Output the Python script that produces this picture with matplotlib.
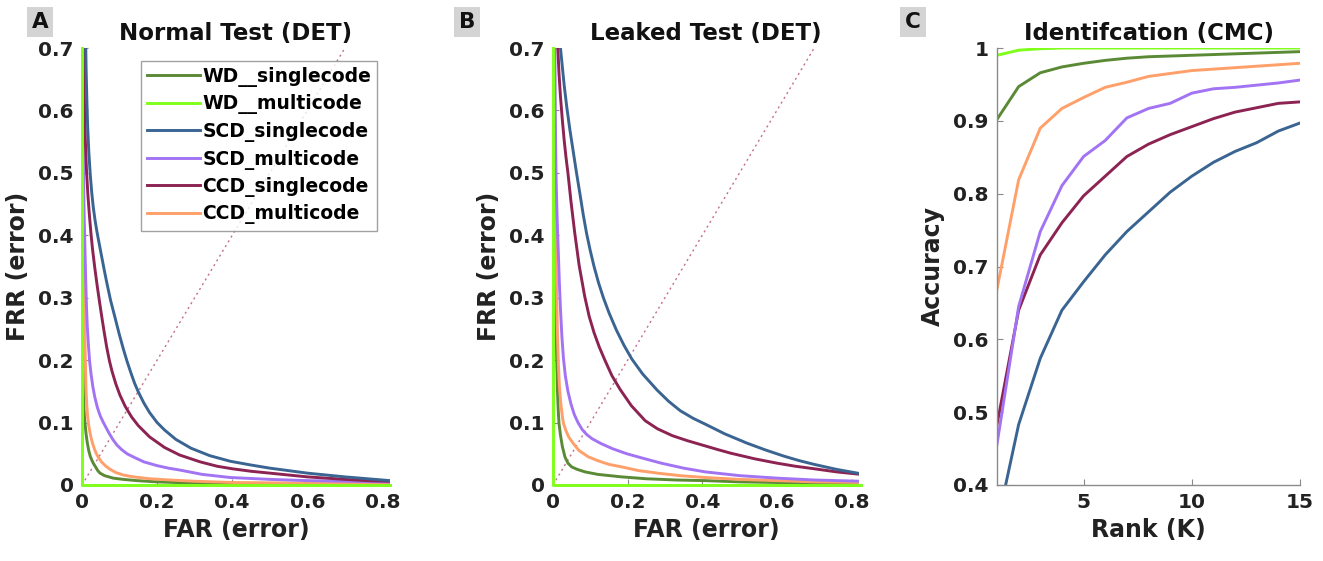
import numpy as np
import matplotlib
matplotlib.use("Agg")
import matplotlib.pyplot as plt

plt.rcParams['font.family'] = ['DejaVu Sans']
plt.rcParams['font.weight'] = 'bold'

labels = ["WD__singlecode", "WD__multicode", "SCD_singlecode",
          "SCD_multicode", "CCD_singlecode", "CCD_multicode"]
colors = ["#5a8a36", "#7fff1a", "#3a6492", "#a274f4", "#8c2352", "#ffa06a"]

# ---- Normal test (DET) ----
far_a_wd_s = [0.001, 0.0015, 0.002, 0.003, 0.004, 0.005, 0.006, 0.008, 0.011, 0.014, 0.018,
              0.022, 0.026, 0.030, 0.036, 0.042, 0.048, 0.060, 0.083, 0.110, 0.146, 0.200,
              0.250, 0.400, 0.820]
frr_a_wd_s = [0.700, 0.480, 0.350, 0.220, 0.155, 0.128, 0.114, 0.099, 0.081, 0.068, 0.055,
              0.046, 0.040, 0.035, 0.029, 0.023, 0.019, 0.015, 0.011, 0.009, 0.007, 0.005,
              0.004, 0.002, 0.001]
far_a_wd_m = [0.0, 0.0, 0.820]
frr_a_wd_m = [0.700, 0.0, 0.0]
far_a_scd_s = [0.010, 0.011, 0.013, 0.015, 0.018, 0.022, 0.026, 0.030, 0.035, 0.040, 0.046,
               0.052, 0.059, 0.066, 0.076, 0.088, 0.099, 0.110, 0.120, 0.130, 0.140, 0.150,
               0.165, 0.180, 0.200, 0.220, 0.250, 0.290, 0.340, 0.395, 0.450, 0.500, 0.550,
               0.600, 0.650, 0.700, 0.760, 0.820]
frr_a_scd_s = [0.700, 0.665, 0.615, 0.575, 0.535, 0.497, 0.468, 0.445, 0.423, 0.405, 0.386,
               0.367, 0.345, 0.324, 0.296, 0.268, 0.242, 0.218, 0.198, 0.180, 0.163, 0.149,
               0.131, 0.116, 0.100, 0.088, 0.073, 0.059, 0.047, 0.038, 0.032, 0.027, 0.023,
               0.019, 0.016, 0.013, 0.010, 0.007]
far_a_scd_m = [0.001, 0.002, 0.003, 0.004, 0.005, 0.006, 0.008, 0.010, 0.012, 0.014, 0.017,
               0.020, 0.024, 0.029, 0.034, 0.041, 0.049, 0.057, 0.064, 0.072, 0.082, 0.093,
               0.105, 0.120, 0.140, 0.165, 0.200, 0.230, 0.260, 0.320, 0.395, 0.500, 0.600,
               0.700, 0.820]
frr_a_scd_m = [0.700, 0.620, 0.555, 0.500, 0.458, 0.425, 0.375, 0.325, 0.285, 0.255, 0.225,
               0.200, 0.178, 0.157, 0.141, 0.124, 0.110, 0.100, 0.092, 0.083, 0.073, 0.064,
               0.057, 0.050, 0.044, 0.037, 0.031, 0.027, 0.024, 0.017, 0.012, 0.009, 0.007,
               0.006, 0.005]
far_a_ccd_s = [0.004, 0.005, 0.007, 0.009, 0.012, 0.016, 0.020, 0.024, 0.028, 0.034, 0.040,
               0.046, 0.052, 0.059, 0.066, 0.073, 0.080, 0.090, 0.101, 0.115, 0.132, 0.150,
               0.180, 0.220, 0.260, 0.315, 0.360, 0.400, 0.450, 0.500, 0.550, 0.600, 0.650,
               0.700, 0.760, 0.820]
frr_a_ccd_s = [0.700, 0.665, 0.600, 0.550, 0.503, 0.462, 0.430, 0.402, 0.378, 0.348, 0.321,
               0.296, 0.272, 0.245, 0.220, 0.199, 0.182, 0.162, 0.144, 0.126, 0.109, 0.095,
               0.077, 0.060, 0.048, 0.037, 0.030, 0.026, 0.022, 0.019, 0.016, 0.013, 0.011,
               0.009, 0.007, 0.006]
far_a_ccd_m = [0.001, 0.0015, 0.002, 0.003, 0.004, 0.005, 0.006, 0.008, 0.010, 0.011, 0.013,
               0.015, 0.017, 0.020, 0.024, 0.028, 0.034, 0.040, 0.044, 0.052, 0.062, 0.075,
               0.090, 0.110, 0.137, 0.180, 0.235, 0.300, 0.400, 0.600, 0.820]
frr_a_ccd_m = [0.700, 0.590, 0.500, 0.430, 0.377, 0.330, 0.290, 0.225, 0.170, 0.148, 0.125,
               0.110, 0.099, 0.088, 0.076, 0.067, 0.056, 0.048, 0.044, 0.037, 0.031, 0.025,
               0.020, 0.016, 0.013, 0.010, 0.008, 0.006, 0.004, 0.003, 0.002]

# ---- Leaked test (DET) ----
far_b_wd_s = [0.002, 0.0025, 0.003, 0.004, 0.005, 0.007, 0.010, 0.012, 0.014, 0.016, 0.020,
              0.025, 0.032, 0.040, 0.050, 0.065, 0.086, 0.120, 0.184, 0.250, 0.330, 0.408,
              0.500, 0.600, 0.700, 0.825]
frr_b_wd_s = [0.700, 0.600, 0.500, 0.430, 0.377, 0.290, 0.200, 0.150, 0.120, 0.099, 0.080,
              0.062, 0.045, 0.035, 0.029, 0.025, 0.021, 0.017, 0.013, 0.010, 0.008, 0.007,
              0.005, 0.004, 0.003, 0.002]
far_b_wd_m = [0.0, 0.0, 0.825]
frr_b_wd_m = [0.700, 0.0, 0.0]
far_b_scd_s = [0.020, 0.025, 0.030, 0.037, 0.045, 0.054, 0.063, 0.072, 0.081, 0.090, 0.100,
               0.110, 0.122, 0.135, 0.150, 0.170, 0.190, 0.211, 0.240, 0.279, 0.310, 0.341,
               0.375, 0.413, 0.460, 0.520, 0.570, 0.620, 0.660, 0.700, 0.760, 0.825]
frr_b_scd_s = [0.700, 0.670, 0.640, 0.605, 0.570, 0.535, 0.500, 0.467, 0.433, 0.403, 0.375,
               0.350, 0.324, 0.300, 0.276, 0.248, 0.224, 0.202, 0.178, 0.152, 0.134, 0.119,
               0.107, 0.096, 0.082, 0.067, 0.056, 0.046, 0.039, 0.033, 0.025, 0.018]
far_b_scd_m = [0.005, 0.006, 0.008, 0.010, 0.012, 0.014, 0.017, 0.020, 0.024, 0.028, 0.033,
               0.040, 0.048, 0.057, 0.067, 0.078, 0.090, 0.105, 0.130, 0.160, 0.198, 0.240,
               0.290, 0.350, 0.408, 0.500, 0.600, 0.700, 0.825]
frr_b_scd_m = [0.700, 0.600, 0.500, 0.450, 0.410, 0.377, 0.325, 0.282, 0.236, 0.203, 0.175,
               0.150, 0.130, 0.113, 0.100, 0.089, 0.081, 0.074, 0.066, 0.058, 0.050, 0.043,
               0.035, 0.027, 0.021, 0.015, 0.011, 0.008, 0.006]
far_b_ccd_s = [0.013, 0.016, 0.020, 0.025, 0.030, 0.035, 0.040, 0.048, 0.058, 0.070, 0.085,
               0.097, 0.110, 0.124, 0.139, 0.158, 0.180, 0.210, 0.247, 0.280, 0.320, 0.360,
               0.400, 0.440, 0.476, 0.540, 0.600, 0.650, 0.700, 0.760, 0.825]
frr_b_ccd_s = [0.700, 0.660, 0.622, 0.585, 0.552, 0.524, 0.500, 0.455, 0.405, 0.352, 0.302,
               0.270, 0.244, 0.221, 0.200, 0.175, 0.153, 0.127, 0.103, 0.090, 0.079, 0.071,
               0.064, 0.057, 0.051, 0.042, 0.035, 0.030, 0.026, 0.021, 0.017]
far_b_ccd_m = [0.004, 0.005, 0.006, 0.007, 0.008, 0.010, 0.012, 0.014, 0.017, 0.021, 0.025,
               0.028, 0.034, 0.042, 0.055, 0.070, 0.095, 0.120, 0.150, 0.184, 0.230, 0.280,
               0.340, 0.408, 0.500, 0.600, 0.700, 0.825]
frr_b_ccd_m = [0.700, 0.600, 0.500, 0.430, 0.377, 0.300, 0.240, 0.200, 0.160, 0.130, 0.110,
               0.099, 0.088, 0.077, 0.066, 0.055, 0.045, 0.039, 0.033, 0.029, 0.023, 0.019,
               0.015, 0.012, 0.009, 0.007, 0.005, 0.004]

eer_line = [0.0, 0.7]

# ---- Identification (CMC) ----
rank = list(range(1, 16))
acc_wd_s = [0.902, 0.947, 0.966, 0.974, 0.979, 0.983, 0.986, 0.988, 0.989, 0.990, 0.991,
            0.992, 0.993, 0.994, 0.995]
acc_wd_m = [0.990, 0.997, 0.999, 1.0, 1.0, 1.0, 1.0, 1.0, 1.0, 1.0, 1.0, 1.0, 1.0, 1.0, 1.0]
acc_scd_s = [0.345, 0.483, 0.574, 0.640, 0.679, 0.716, 0.748, 0.775, 0.802, 0.824, 0.843,
             0.858, 0.870, 0.886, 0.897]
acc_scd_m = [0.456, 0.645, 0.748, 0.811, 0.851, 0.873, 0.904, 0.917, 0.924, 0.938, 0.944,
             0.946, 0.949, 0.952, 0.956]
acc_ccd_s = [0.483, 0.640, 0.716, 0.760, 0.797, 0.824, 0.851, 0.868, 0.881, 0.892, 0.903,
             0.912, 0.918, 0.924, 0.926]
acc_ccd_m = [0.669, 0.819, 0.890, 0.917, 0.932, 0.946, 0.953, 0.961, 0.965, 0.969, 0.971,
             0.973, 0.975, 0.977, 0.979]

fig = plt.figure(figsize=(13.23, 5.61), dpi=100)
W, H = 1323, 561


def add_ax(x0, x1, y0=48, y1=485):
    return fig.add_axes([x0 / W, (H - y1) / H, (x1 - x0) / W, (y1 - y0) / H])


def style(ax):
    for s in ["top", "right"]:
        ax.spines[s].set_visible(False)
    for s in ["left", "bottom"]:
        ax.spines[s].set_color("#8a8a8a")
        ax.spines[s].set_linewidth(1.0)
    ax.tick_params(direction="in", length=4, width=0.8, color="#8a8a8a",
                   labelsize=14.5, labelcolor="#222222", pad=6)
    for t in ax.get_xticklabels() + ax.get_yticklabels():
        t.set_fontweight("bold")


lw = 2.1
axA = add_ax(82, 390)
axB = add_ax(553, 859)
axC = add_ax(997, 1300)

for ax, curves, title in [
    (axA, [(far_a_wd_s, frr_a_wd_s), (far_a_wd_m, frr_a_wd_m), (far_a_scd_s, frr_a_scd_s),
           (far_a_scd_m, frr_a_scd_m), (far_a_ccd_s, frr_a_ccd_s), (far_a_ccd_m, frr_a_ccd_m)],
     "Normal Test (DET)"),
    (axB, [(far_b_wd_s, frr_b_wd_s), (far_b_wd_m, frr_b_wd_m), (far_b_scd_s, frr_b_scd_s),
           (far_b_scd_m, frr_b_scd_m), (far_b_ccd_s, frr_b_ccd_s), (far_b_ccd_m, frr_b_ccd_m)],
     "Leaked Test (DET)"),
]:
    ax.plot(eer_line, eer_line, linestyle=(0, (1.5, 2.5)), color="#c4708a", lw=1.0)
    order = [1, 0, 5, 3, 4, 2]
    lines = {}
    for i in order:
        x, y = curves[i]
        ln, = ax.plot(x, y, color=colors[i], lw=lw, label=labels[i],
                      clip_on=(i != 1), zorder=3 if i == 1 else 2)
        lines[i] = ln
    ax.set_xlim(0, 0.82)
    ax.set_ylim(0, 0.7)
    ax.set_xticks([0, 0.2, 0.4, 0.6, 0.8])
    ax.set_xticklabels(["0", "0.2", "0.4", "0.6", "0.8"])
    ax.set_yticks(np.arange(0, 0.71, 0.1))
    ax.set_yticklabels(["0", "0.1", "0.2", "0.3", "0.4", "0.5", "0.6", "0.7"])
    ax.set_xlabel("FAR (error)", fontsize=17, fontweight="bold", color="#222222", labelpad=4)
    ax.set_ylabel("FRR (error)", fontsize=17, fontweight="bold", color="#222222", labelpad=6)
    ax.set_title(title, fontsize=16.5, fontweight="bold", color="#111111", pad=6)
    style(ax)
    if ax is axA:
        leg = ax.legend([lines[i] for i in range(6)], labels, loc="upper left",
                        bbox_to_anchor=((141 - 82) / 308, (485 - 61) / 437),
                        fontsize=13.5, frameon=True, fancybox=False, edgecolor="#8a8a8a",
                        handlelength=2.8, handletextpad=0.15, labelspacing=0.40,
                        borderpad=0.32, borderaxespad=0)
        leg.get_frame().set_linewidth(1.0)
        for t in leg.get_texts():
            t.set_fontweight("bold")

cmc = [acc_wd_s, acc_wd_m, acc_scd_s, acc_scd_m, acc_ccd_s, acc_ccd_m]
for i in [2, 4, 3, 5, 0, 1]:
    axC.plot(rank, cmc[i], color=colors[i], lw=lw)
axC.set_xlim(1, 15)
axC.set_ylim(0.4, 1.0)
axC.set_xticks([5, 10, 15])
axC.set_yticks([0.4, 0.5, 0.6, 0.7, 0.8, 0.9, 1.0])
axC.set_yticklabels(["0.4", "0.5", "0.6", "0.7", "0.8", "0.9", "1"])
axC.set_xlabel("Rank (K)", fontsize=17, fontweight="bold", color="#222222", labelpad=4)
axC.set_ylabel("Accuracy", fontsize=17, fontweight="bold", color="#222222", labelpad=6)
axC.set_title("Identifcation (CMC)", fontsize=16.5, fontweight="bold", color="#111111", pad=6)
style(axC)

for letter, xc in [("A", 40), ("B", 467), ("C", 913)]:
    fig.text(xc / W, 1 - 22 / H, letter, fontsize=15.5, fontweight="bold", color="#111111",
             ha="center", va="center",
             bbox=dict(boxstyle="square,pad=0.22", facecolor="#d4d4d4", edgecolor="none"))

fig.savefig("out.png", dpi=100)
